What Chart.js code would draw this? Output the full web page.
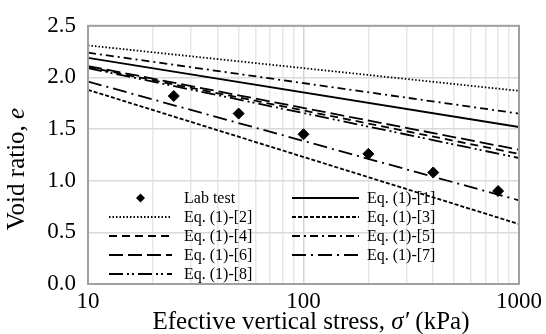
<!DOCTYPE html>
<html>
<head>
<meta charset="utf-8">
<script src="https://cdn.jsdelivr.net/npm/chart.js@4/dist/chart.umd.min.js"></script>
<style>
  html, body { margin: 0; padding: 0; background: #fff; }
  #wrap { width: 546px; height: 334px; }
</style>
</head>
<body>
<div id="wrap"><canvas id="chart" width="546" height="334"></canvas></div>
<script>
// lab data
const labStress = [25, 50, 100, 200, 400, 800];
const labVoid = [1.82, 1.65, 1.45, 1.26, 1.08, 0.90];

// Eq. (1) predictions, end points at 10 and 1000 kPa
const eqStress = [10, 1000];
const eq1 = [2.19, 1.52];
const eq2 = [2.31, 1.87];
const eq3 = [1.88, 0.58];
const eq4 = [2.10, 1.26];
const eq5 = [2.24, 1.65];
const eq6 = [2.11, 1.30];
const eq7 = [1.96, 0.81];
const eq8 = [2.09, 1.22];

const eqNames = ['Eq. (1)-[1]', 'Eq. (1)-[2]', 'Eq. (1)-[3]', 'Eq. (1)-[4]',
  'Eq. (1)-[5]', 'Eq. (1)-[6]', 'Eq. (1)-[7]', 'Eq. (1)-[8]'];
const eqValues = [eq1, eq2, eq3, eq4, eq5, eq6, eq7, eq8];
const eqDashes = [[], [1.5, 2], [4, 2], [8, 5], [8, 4, 2, 4], [14, 5], [14, 5, 2, 5], [14, 4, 2, 3, 2, 4]];

const xTicks = [10, 20, 30, 40, 50, 60, 70, 80, 90, 100, 200, 300, 400, 500, 600, 700, 800, 900, 1000];
const yTicks = [0, 0.5, 1.0, 1.5, 2.0, 2.5];

const SERIF = '"Liberation Serif", "Times New Roman", serif';

const toPts = (xs, ys) => xs.map((x, i) => ({ x: x, y: ys[i] }));

const datasets = [{
  label: 'Lab test',
  type: 'scatter',
  data: toPts(labStress, labVoid),
  pointStyle: 'rectRot',
  pointRadius: 5.5,
  backgroundColor: '#000',
  borderColor: '#000',
  showLine: false,
}];
eqValues.forEach((v, i) => {
  datasets.push({
    label: eqNames[i],
    type: 'line',
    data: toPts(eqStress, v),
    borderColor: '#000',
    borderWidth: 1.8,
    borderDash: eqDashes[i],
    pointRadius: 0,
    fill: false,
  });
});

const decor = {
  id: 'decor',
  afterDraw(chart) {
    const { ctx, chartArea: a } = chart;
    ctx.save();
    // frame
    ctx.strokeStyle = '#a0a0a0';
    ctx.lineWidth = 2;
    ctx.setLineDash([]);
    ctx.strokeRect(a.left, a.top, a.right - a.left, a.bottom - a.top);

    // legend
    ctx.font = '16px ' + SERIF;
    ctx.fillStyle = '#000';
    ctx.textBaseline = 'middle';
    const rowY = 198, rowH = 19;
    const cols = [{ s: 109, e: 172, t: 184 }, { s: 292, e: 359, t: 367 }];
    chart.data.datasets.forEach((ds, i) => {
      const c = cols[i % 2];
      const y = rowY + Math.floor(i / 2) * rowH;
      if (ds.type === 'scatter') {
        ctx.beginPath();
        const r = 4.5, cx = (c.s + c.e) / 2;
        ctx.moveTo(cx, y - r); ctx.lineTo(cx + r, y); ctx.lineTo(cx, y + r); ctx.lineTo(cx - r, y);
        ctx.closePath();
        ctx.fill();
      } else {
        ctx.beginPath();
        ctx.setLineDash(ds.borderDash);
        ctx.lineWidth = ds.borderWidth;
        ctx.strokeStyle = '#000';
        ctx.moveTo(c.s, y); ctx.lineTo(c.e, y);
        ctx.stroke();
        ctx.setLineDash([]);
      }
      ctx.fillText(ds.label, c.t, y + 1);
    });

    // x title
    ctx.textBaseline = 'alphabetic';
    const p1 = 'Efective vertical stress, ', p2 = '\u03C3\u2032', p3 = ' (kPa)';
    const nf = '25px ' + SERIF, itf = 'italic 25px ' + SERIF;
    ctx.font = nf; const w1 = ctx.measureText(p1).width, w3 = ctx.measureText(p3).width;
    ctx.font = itf; const w2 = ctx.measureText(p2).width;
    let x = 311 - (w1 + w2 + w3) / 2;
    ctx.textAlign = 'left';
    ctx.font = nf; ctx.fillText(p1, x, 329); x += w1;
    ctx.font = itf; ctx.fillText(p2, x, 329); x += w2;
    ctx.font = nf; ctx.fillText(p3, x, 329);

    // y title
    ctx.translate(24, 169);
    ctx.rotate(-Math.PI / 2);
    const q1 = 'Void ratio, ', q2 = 'e';
    ctx.font = nf; const v1 = ctx.measureText(q1).width;
    ctx.font = itf; const v2 = ctx.measureText(q2).width;
    let yx = -(v1 + v2) / 2;
    ctx.font = nf; ctx.fillText(q1, yx, 0); yx += v1;
    ctx.font = itf; ctx.fillText(q2, yx, 0);
    ctx.restore();
  }
};

new Chart(document.getElementById('chart'), {
  type: 'scatter',
  data: { datasets: datasets },
  options: {
    responsive: false,
    animation: false,
    layout: { padding: { top: 21, right: 26, left: 0, bottom: 0 } },
    plugins: { legend: { display: false }, tooltip: { enabled: false } },
    scales: {
      x: {
        type: 'logarithmic',
        min: 10,
        max: 1000,
        afterBuildTicks: (s) => { s.ticks = xTicks.map(v => ({ value: v })); },
        afterFit: (s) => { s.height = 50; },
        ticks: {
          autoSkip: false,
          maxRotation: 0,
          padding: 4,
          color: '#000',
          font: { family: SERIF, size: 23 },
          callback: (v) => ([10, 100, 1000].includes(v) ? String(v) : ''),
        },
        grid: {
          drawTicks: false,
          color: (c) => (c.tick && c.tick.value === 100 ? '#d4d4d4' : '#e8e8e8'),
          lineWidth: 1.5,
        },
        border: { display: false },
      },
      y: {
        min: 0,
        max: 2.5,
        afterBuildTicks: (s) => { s.ticks = yTicks.map(v => ({ value: v })); },
        afterFit: (s) => { s.width = 88; },
        ticks: {
          padding: 12,
          color: '#000',
          font: { family: SERIF, size: 23 },
          callback: (v) => Number(v).toFixed(1),
        },
        grid: { drawTicks: false, color: '#d9d9d9', lineWidth: 1.5 },
        border: { display: false },
      },
    },
  },
  plugins: [decor],
});
</script>
</body>
</html>
